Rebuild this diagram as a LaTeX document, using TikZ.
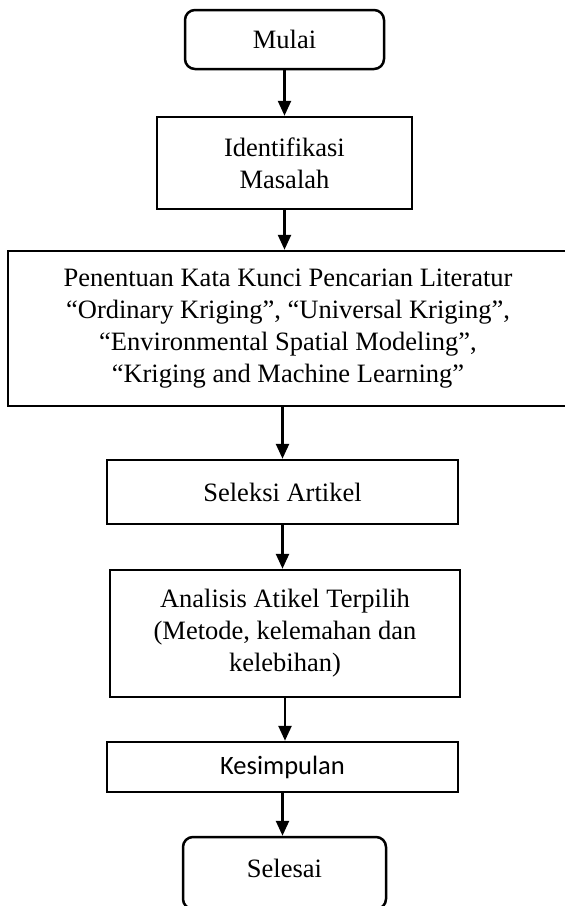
\documentclass[tikz,border=0pt]{standalone}
\usepackage{fontspec}
\setmainfont{Liberation Serif}
\newfontfamily\calibrifont{Carlito}
\usetikzlibrary{arrows.meta}
\tikzset{box/.style={draw, line width=2.5pt, inner sep=0pt, align=center,
  font=\fontsize{26.5}{32}\selectfont},
  terminal/.style={box, rounded corners=10pt},
  flow/.style={line width=2.5pt, -{Triangle[width=13pt,length=15pt]}}}

\begin{document}
\begin{tikzpicture}[x=1pt, y=-1pt]
      \useasboundingbox (0,0) rectangle (565,906);
      \node [terminal, minimum width=199pt, minimum height=59pt] (mulai) at (284.5,39.5) {Mulai};
      \node [box, minimum width=255pt, minimum height=92pt] (identifikasi) at (284.5,163) {Identifikasi\\Masalah};
      \node [box, minimum width=560pt, minimum height=155pt] (katakunci) at (288,328.5) {Penentuan Kata Kunci Pencarian Literatur\\“Ordinary Kriging”, “Universal Kriging”,\\“Environmental Spatial Modeling”,\\“Kriging and Machine Learning”};
      \node [box, minimum width=351pt, minimum height=64pt] (seleksi) at (282.5,492) {Seleksi Artikel};
      \node [box, minimum width=350pt, minimum height=127pt] (analisis) at (285,633.5) {Analisis Atikel Terpilih\\(Metode, kelemahan dan\\kelebihan)};
      \node [box, minimum width=351pt, minimum height=50pt, font=\calibrifont\fontsize{26.5}{32}\selectfont] (kesimpulan) at (282.5,767) {Kesimpulan};
      \node [terminal, minimum width=203pt, minimum height=72pt, text depth=10pt] (selesai) at (284.5,873) {Selesai};

      \draw [flow] (mulai.south) -- (mulai.south |- identifikasi.north);
      \draw [flow] (identifikasi.south) -- (identifikasi.south |- katakunci.north);
      \draw [flow] (seleksi.north |- katakunci.south) -- (seleksi.north);
      \draw [flow] (seleksi.south) -- (seleksi.south |- analisis.north);
      \draw [flow] (analisis.south) -- (analisis.south |- kesimpulan.north);
      \draw [flow] (kesimpulan.south) -- (kesimpulan.south |- selesai.north);
    \end{tikzpicture}
\end{document}
